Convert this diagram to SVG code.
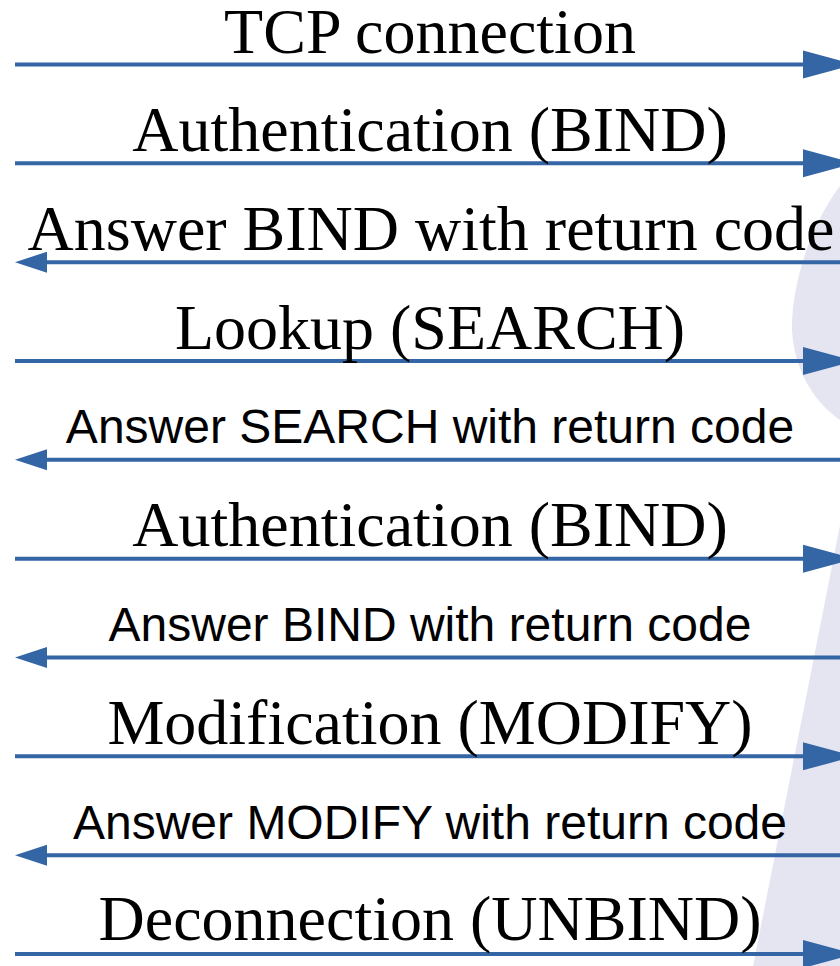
<svg xmlns="http://www.w3.org/2000/svg" width="840" height="966" viewBox="0 0 840 966">
<style>
.serif{font-family:"Liberation Serif","Times New Roman",serif;font-size:64px;fill:#000;text-anchor:middle}
.sans{font-family:"Liberation Sans",Arial,sans-serif;font-size:48px;fill:#000;text-anchor:middle}
.ln{stroke:#3465a4;stroke-width:4;fill:none}
.ah{fill:#3465a4}
.bg{fill:#e5e5f1}
</style>
<rect width="840" height="966" fill="#fff"/>
<g id="background">
<path class="bg" d="M840,186 C808,228 791,290 792,330 C794,370 814,402 840,420 Z"/>
<path class="bg" d="M849,480 L753,966 L840,966 Z"/>
</g>
<g id="connectors">
<line class="ln" x1="15" y1="64.5" x2="806" y2="64.5"/><polygon class="ah" points="803,50.5 803,78.5 855,64.5"/>
<line class="ln" x1="15" y1="163.3" x2="806" y2="163.3"/><polygon class="ah" points="803,149.3 803,177.3 855,163.3"/>
<line class="ln" x1="45" y1="262.2" x2="840" y2="262.2"/><polygon class="ah" points="47,251.7 47,272.7 15,262.2"/>
<line class="ln" x1="15" y1="361" x2="806" y2="361"/><polygon class="ah" points="803,347 803,375 855,361"/>
<line class="ln" x1="45" y1="459.8" x2="840" y2="459.8"/><polygon class="ah" points="47,449.3 47,470.3 15,459.8"/>
<line class="ln" x1="15" y1="558.7" x2="806" y2="558.7"/><polygon class="ah" points="803,544.7 803,572.7 855,558.7"/>
<line class="ln" x1="45" y1="657.5" x2="840" y2="657.5"/><polygon class="ah" points="47,647 47,668 15,657.5"/>
<line class="ln" x1="15" y1="756.3" x2="806" y2="756.3"/><polygon class="ah" points="803,742.3 803,770.3 855,756.3"/>
<line class="ln" x1="45" y1="855.2" x2="840" y2="855.2"/><polygon class="ah" points="47,844.7 47,865.7 15,855.2"/>
<line class="ln" x1="15" y1="954" x2="806" y2="954"/><polygon class="ah" points="803,940 803,968 855,954"/>
</g>
<g id="msg1"><text class="serif" x="430" y="52.5">TCP connection</text></g>
<g id="msg2"><text class="serif" x="430" y="151">Authentication (BIND)</text></g>
<g id="msg3"><text class="serif" x="431" y="250">Answer BIND with return code</text></g>
<g id="msg4"><text class="serif" x="430" y="348.5">Lookup (SEARCH)</text></g>
<g id="msg5"><text class="sans" x="430" y="443.3">Answer SEARCH with return code</text></g>
<g id="msg6"><text class="serif" x="430" y="546">Authentication (BIND)</text></g>
<g id="msg7"><text class="sans" x="430" y="640.5">Answer BIND with return code</text></g>
<g id="msg8"><text class="serif" x="430" y="743.5">Modification (MODIFY)</text></g>
<g id="msg9"><text class="sans" x="430" y="838.5">Answer MODIFY with return code</text></g>
<g id="msg10"><text class="serif" x="430" y="940">Deconnection (UNBIND)</text></g>
</svg>
